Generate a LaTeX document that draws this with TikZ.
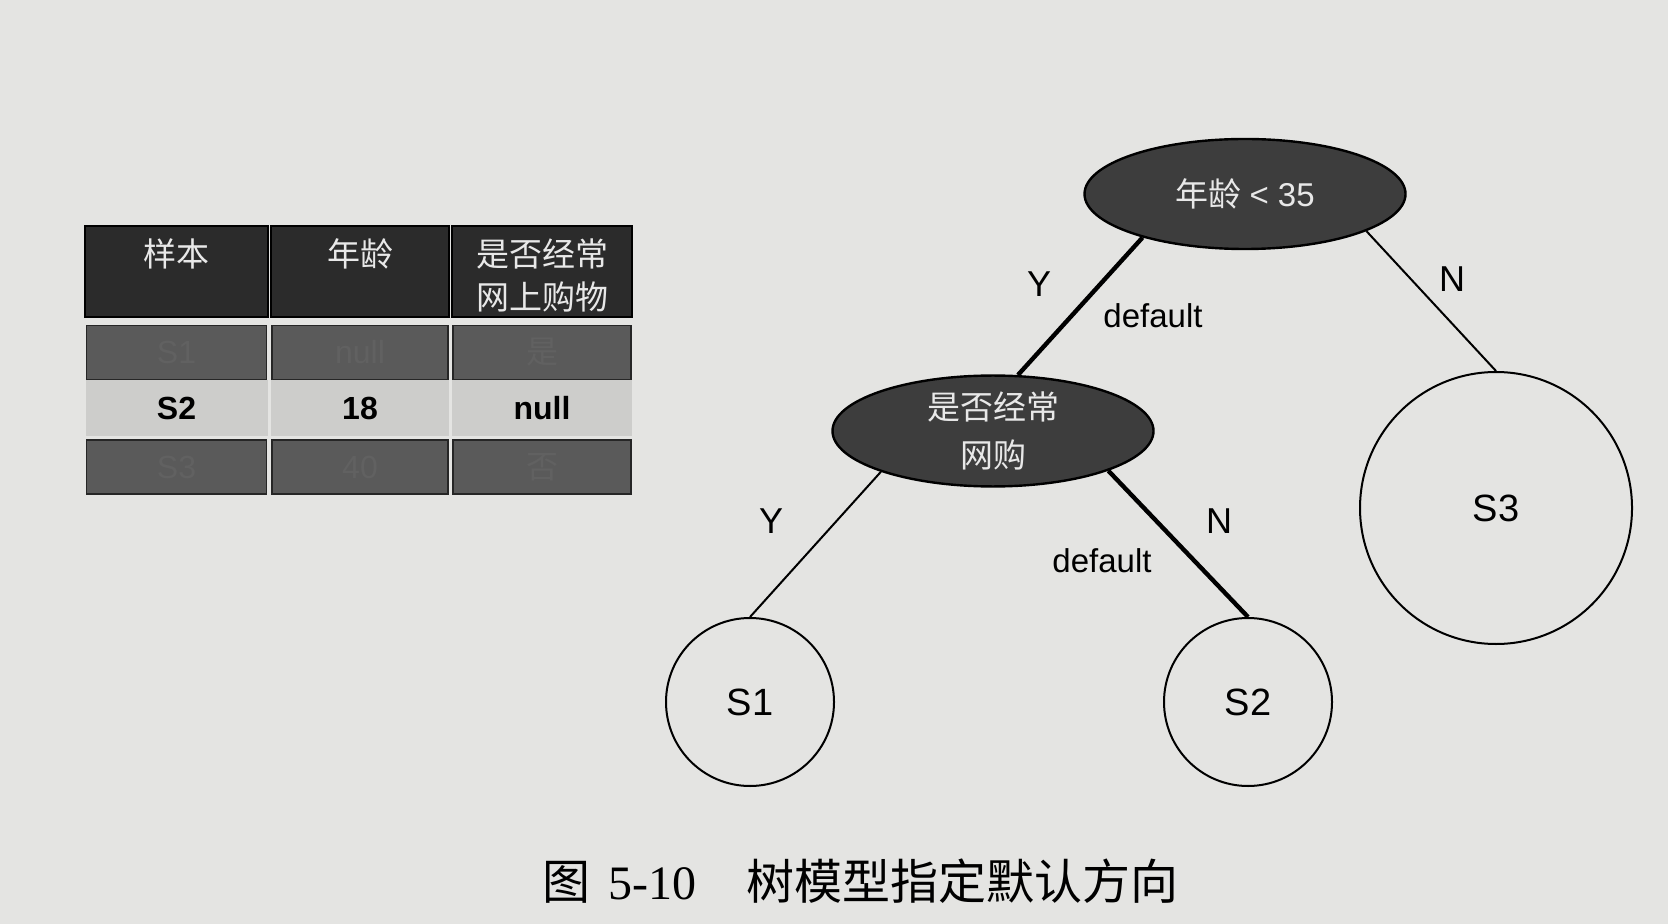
\documentclass[tikz,border=0pt]{standalone}
\usepackage{fontspec}
\setmainfont{Liberation Serif}
\setsansfont{Liberation Sans}
\newfontfamily\cjk{Noto Sans CJK SC}
\usepackage{tikz}
\usetikzlibrary{positioning,shapes.geometric}

\definecolor{paper}{HTML}{E4E4E2}
\definecolor{hdgray}{HTML}{2B2B2B}
\definecolor{rowdark}{HTML}{5A5A5A}
\definecolor{rowlight}{HTML}{CDCDCB}
\definecolor{nodegray}{HTML}{3D3D3D}
\definecolor{inktext}{HTML}{E8E8E8}

\tikzset{
	hdcell/.style={rectangle, fill=hdgray, draw=black, line width=0.8pt, inner sep=0pt, minimum height=45.5pt},
	darkcell/.style={rectangle, fill=rowdark, draw=black!85, line width=0.8pt, inner sep=0pt, minimum height=27pt, text=black!62, font=\sffamily\fontsize{16}{18}\selectfont},
	lightcell/.style={rectangle, fill=rowlight, inner sep=0pt, minimum height=28pt, text=black, font=\sffamily\bfseries\fontsize{16}{18}\selectfont},
	hdtext/.style={text=inktext, align=center, inner sep=0pt, font=\cjk\fontsize{16.5}{21.5}\selectfont},
	split/.style={ellipse, fill=nodegray, draw=black, line width=1.2pt, minimum width=160.5pt, minimum height=55pt, inner sep=0pt, text=inktext, align=center, font=\fontsize{16.5}{24}\selectfont},
	leaf/.style={circle, draw=black, line width=1pt, inner sep=0pt, font=\sffamily\fontsize{19}{21}\selectfont},
	branch/.style={line width=1pt},
	dflt/.style={line width=2.2pt},
	lbl/.style={inner sep=0pt, font=\sffamily\fontsize{18}{20}\selectfont},
	dlbl/.style={inner sep=0pt, font=\sffamily\fontsize{16.5}{18}\selectfont},
}

\begin{document}
\begin{tikzpicture}[x=0.5pt, y=-0.5pt]
	\fill[paper] (0,0) rectangle (1668,924);
	\useasboundingbox (0,0) rectangle (1668,924);

	\node[hdcell, minimum width=91.5pt] (h1) at (176.5,271.5){};
	\node[hdcell, minimum width=89pt] (h2) at (360,271.5){};
	\node[hdcell, minimum width=90pt] (h3) at (542,271.5){};
	\node[hdtext, below=6.5pt of h1.north] (t1){样本};
	\node[hdtext, below=6.5pt of h2.north] (t2){年龄};
	\node[hdtext, below=6.5pt of h3.north] (t3){是否经常\\网上购物};

	\node[darkcell, minimum width=90pt] (a1) at (176.5,352.5){S1};
	\node[darkcell, minimum width=88pt] (a2) at (360,352.5){null};
	\node[darkcell, minimum width=89pt] (a3) at (542,352.5){\cjk 是};
	\node[lightcell, minimum width=91pt] (b1) at (176.5,408){S2};
	\node[lightcell, minimum width=89pt] (b2) at (360,408){18};
	\node[lightcell, minimum width=90pt] (b3) at (542,408){null};
	\node[darkcell, minimum width=90pt] (c1) at (176.5,467){S3};
	\node[darkcell, minimum width=88pt] (c2) at (360,467){40};
	\node[darkcell, minimum width=89pt] (c3) at (542,467){\cjk 否};

	\node[split] (age) at (1245,194){{\cjk 年龄} \textsf{< 35}};
	\node[split] (shop) at (993,431){\cjk 是否经常\\\cjk 网购};
	\node[leaf, minimum size=84pt] (s1) at (750,702){S1};
	\node[leaf, minimum size=84pt] (s2) at (1248,702){S2};
	\node[leaf, minimum size=136pt] (s3) at (1496,508){S3};

	\draw[dflt] (age.203) -- (shop.66);
	\draw[branch] (age.343) -- (s3.north);
	\draw[branch] (shop.200) -- (s1.north);
	\draw[dflt] (shop.341) -- (s2.north);

	\node[lbl] (y1) at (1039,284){Y};
	\node[dlbl] (d1) at (1153,316){default};
	\node[lbl] (n1) at (1452,279){N};
	\node[lbl] (y2) at (771,521){Y};
	\node[lbl] (n2) at (1219,521){N};
	\node[dlbl] (d2) at (1102,561){default};

	\node[anchor=west, inner sep=0pt, font=\fontsize{24}{26}\selectfont] (cap) at (542,881){{\cjk 图}\hspace{9pt}5-10\hspace{25pt}{\cjk 树模型指定默认方向}};
\end{tikzpicture}
\end{document}
